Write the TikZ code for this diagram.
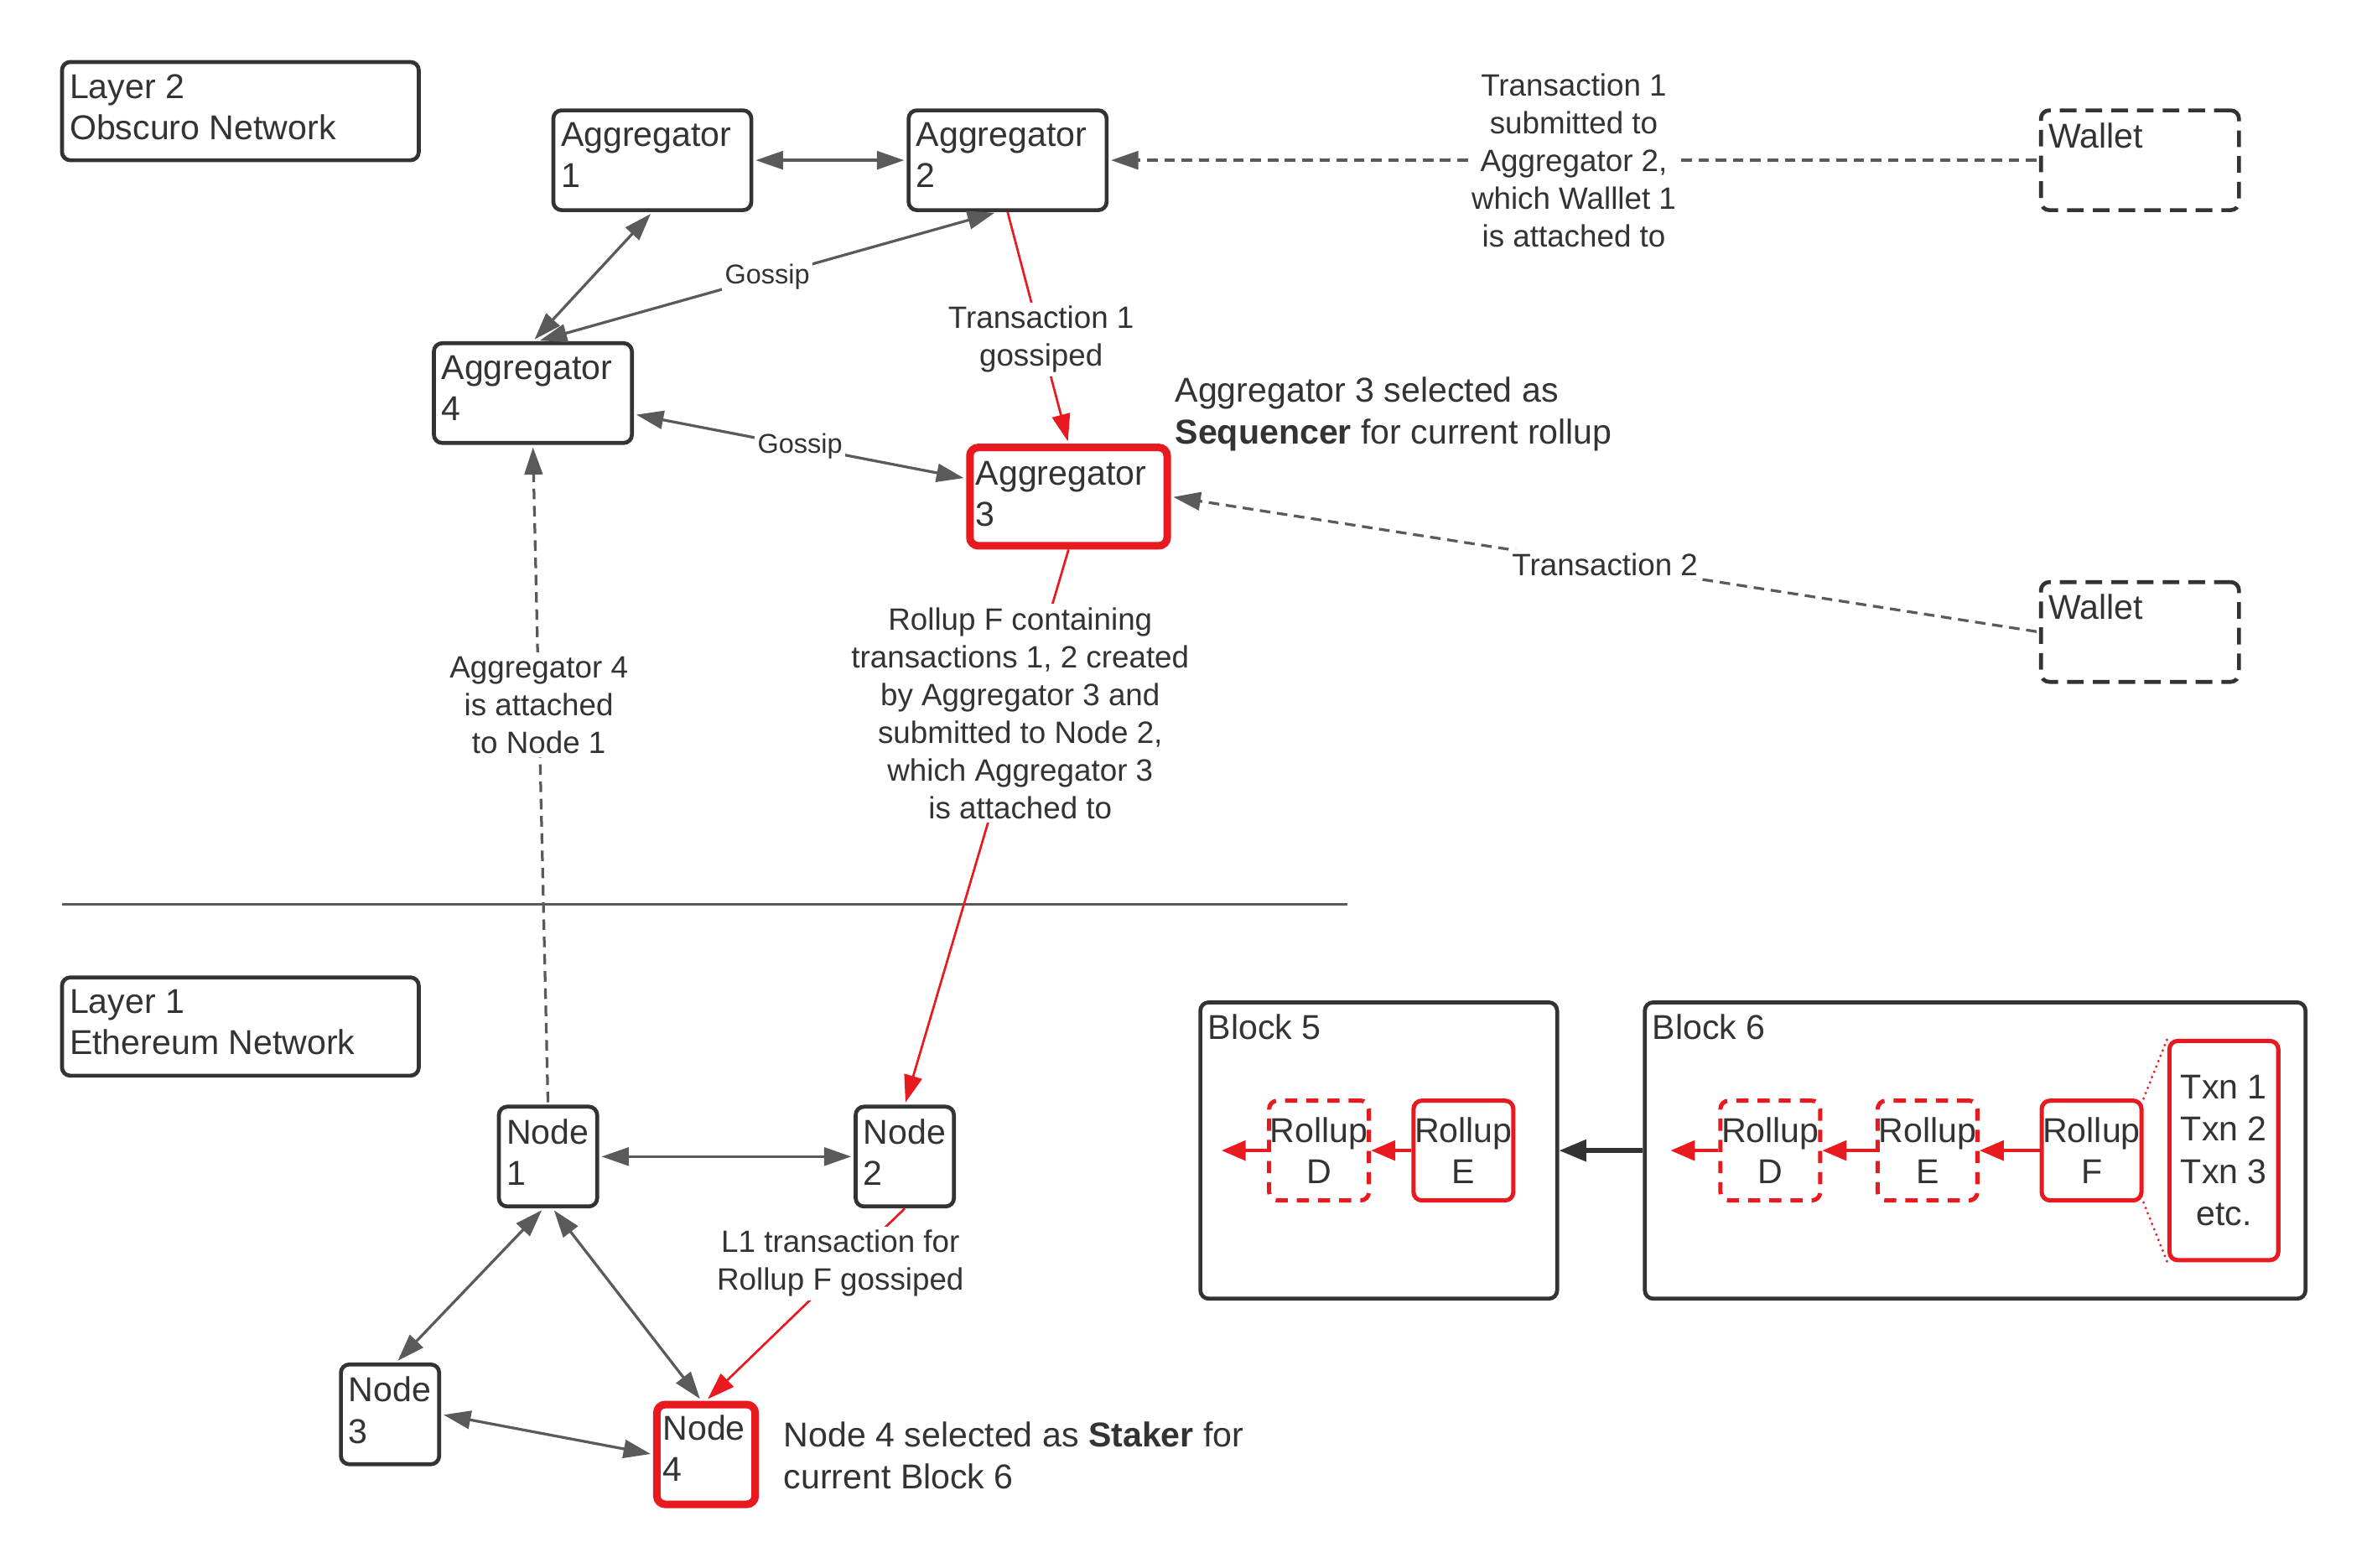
\documentclass[tikz,border=0pt]{standalone}
\usepackage{fontspec}
\setmainfont{Liberation Sans}
\usetikzlibrary{arrows.meta}
\definecolor{txt}{HTML}{333333}
\definecolor{bord}{HTML}{333333}
\definecolor{arrg}{HTML}{5A5A5A}
\definecolor{lred}{RGB}{232,26,32}
\newcommand\boxfnt{\fontsize{11.4}{13.7}\selectfont}
\newcommand\labfnt{\fontsize{10.2}{12.5}\selectfont}
\newcommand\gosfnt{\fontsize{9}{11}\selectfont}
\newcommand\annfnt{\fontsize{11.4}{14}\selectfont}
\begin{document}
\begin{tikzpicture}[x=0.5pt,y=-0.5pt,
  every node/.style={text=txt},
  mytip/.tip={Triangle[length=9pt,width=6pt]},
  box/.style={draw=bord, line width=1.3pt, rounded corners=2.75pt, fill=white, inner sep=0pt},
  redbox/.style={box, draw=lred, line width=2.5pt},
  walletbox/.style={box, dash pattern=on 5.5pt off 3pt},
  rollbox/.style={draw=lred, line width=1.4pt, rounded corners=2.75pt, fill=white, inner sep=0pt,
     minimum width=33pt, minimum height=33pt, align=center, font=\boxfnt},
  rolldash/.style={rollbox, dash pattern=on 4pt off 3pt},
  toplab/.style={anchor=north west, align=left, inner xsep=3pt, inner ysep=4.5pt, font=\boxfnt, text=txt},
  tl/.style={label={[toplab]north west:{#1}}},
  aggsize/.style={minimum width=65.5pt, minimum height=33pt},
  nodesize/.style={minimum width=32.5pt, minimum height=33pt},
  conn/.style={draw=arrg, line width=0.9pt, shorten >=0.8pt, shorten <=0.8pt},
  redconn/.style={draw=lred, line width=0.75pt, shorten >=0.8pt},
  dashpat/.style={dash pattern=on 3.5pt off 2.2pt},
  bi/.style={{mytip}-{mytip}},
  lab/.style={fill=white, font=\labfnt, align=center, inner sep=1.2pt, text=txt},
  gos/.style={fill=white, font=\gosfnt, inner sep=1pt, text=txt},
  ann/.style={anchor=north west, align=left, inner sep=0pt, font=\annfnt, text=txt},
  redarr/.style={draw=lred, line width=1.2pt, -{Triangle[length=8pt,width=6.5pt]}},
  blkarr/.style={draw=bord, line width=1.5pt, -{Triangle[length=9pt,width=7pt]}},
  reddot/.style={draw=lred, line width=0.9pt, line cap=round, dash pattern=on 0pt off 1.9pt}
]
\useasboundingbox (0,0) rectangle (1569,1036.6);
\fill[white] (0,0) rectangle (1569,1036.6);

% ---- Layer 2 ----
\node[box, minimum width=118pt, minimum height=32.5pt, tl={Layer 2\\Obscuro Network}] (l2) at (159,73.5) {};
\node[box, aggsize, tl={Aggregator\\1}] (a1) at (431.5,106) {};
\node[box, aggsize, tl={Aggregator\\2}] (a2) at (666.5,106) {};
\node[box, aggsize, tl={Aggregator\\4}] (a4) at (352.5,260) {};
\node[redbox, minimum width=65.25pt, minimum height=32.5pt,
      label={[toplab, inner ysep=5.5pt]north west:{Aggregator\\3}}] (a3) at (706.8,328.5) {};
\node[walletbox, aggsize, tl={Wallet}] (w1) at (1415.5,106) {};
\node[walletbox, aggsize, tl={Wallet}] (w2) at (1415.5,418) {};

\node[ann] (seq) at (777,249) {Aggregator 3 selected as\\\textbf{Sequencer} for current rollup};

% ---- separator ----
\coordinate (sepL) at (41,598);
\coordinate (sepR) at (891,598);
\draw[arrg, line width=0.9pt] (sepL) -- (sepR);

% ---- Layer 1 ----
\node[box, minimum width=118pt, minimum height=32.5pt, tl={Layer 1\\Ethereum Network}] (l1) at (159,679) {};
\node[box, nodesize, tl={Node\\1}] (n1) at (362.5,765) {};
\node[box, nodesize, tl={Node\\2}] (n2) at (598.5,765) {};
\node[box, nodesize, tl={Node\\3}] (n3) at (258,935.5) {};
\node[redbox, nodesize, tl={Node\\4}] (n4) at (467,962) {};

\node[ann] (stk) at (518,940) {Node 4 selected as \textbf{Staker} for\\current Block 6};

% ---- Blocks ----
\node[box, minimum width=118pt, minimum height=98pt, tl={Block 5}] (b5) at (912,761) {};
\node[box, minimum width=218.5pt, minimum height=98pt, tl={Block 6}] (b6) at (1306.5,761) {};

\node[rolldash] (d5) at (872.5,761) {Rollup\\D};
\node[rollbox]  (e5) at (968,761) {Rollup\\E};
\node[rolldash] (d6) at (1171,761) {Rollup\\D};
\node[rolldash] (e6) at (1275,761) {Rollup\\E};
\node[rollbox]  (f6) at (1383.5,761) {Rollup\\F};
\node[rollbox, minimum width=36pt, minimum height=72.5pt, font=\fontsize{11.4}{14}\selectfont] (tx) at (1471,761) {Txn 1\\Txn 2\\Txn 3\\etc.};

\coordinate (c5) at (808,761);
\coordinate (c6) at (1105,761);

% ---- connectors: layer 2 ----
\draw[conn, bi] (a1) -- (a2);
\draw[conn, bi] (a1.south) -- (a4.north);
\draw[conn, bi] ([shift={(3,0)}]a4.north) -- node[gos]{Gossip} ([shift={(-7,0)}]a2.south);
\draw[conn, bi] ([shift={(0,14)}]a4.east) -- node[gos]{Gossip} ([shift={(0,-12)}]a3.west);
\draw[redconn, -{mytip}] (a2.south) -- node[lab, pos=0.55]{Transaction 1\\gossiped} (a3.north);
\draw[conn, dashpat, -{mytip}] (w1) -- node[lab]{Transaction 1\\submitted to\\Aggregator 2,\\which Walllet 1\\is attached to} (a2);
\draw[conn, dashpat, -{mytip}] (w2.west) -- node[lab]{Transaction 2} (a3.east);
\draw[redconn, -{mytip}] (a3.south) -- node[lab, pos=0.295]{Rollup F containing\\transactions 1, 2 created\\by Aggregator 3 and\\submitted to Node 2,\\which Aggregator 3\\is attached to} (n2.north);
\draw[conn, dashpat, -{mytip}] (n1.north) -- node[lab, pos=0.606]{Aggregator 4\\is attached\\to Node 1} (a4.south);

% ---- connectors: layer 1 ----
\draw[conn, bi] (n1) -- (n2);
\draw[conn, bi] ([shift={(-3,0)}]n1.south) -- ([shift={(4,0)}]n3.north);
\draw[conn, bi] ([shift={(3,0)}]n1.south) -- ([shift={(-3,0)}]n4.north);
\draw[conn, bi] (n3.east) -- (n4.west);
\draw[redconn, -{mytip}] (n2.south) -- node[lab, pos=0.286, xshift=-2.5pt]{L1 transaction for\\Rollup F gossiped} (n4.north);

% ---- blocks ----
\draw[blkarr] (b6) -- (b5);
\draw[redarr] (d5) -- (c5);
\draw[redarr] (e5) -- (d5);
\draw[redarr] (d6) -- (c6);
\draw[redarr] (e6) -- (d6);
\draw[redarr] (f6) -- (e6);
\draw[reddot] (f6.north east) -- (tx.north west);
\draw[reddot] (f6.south east) -- (tx.south west);
\end{tikzpicture}
\end{document}
